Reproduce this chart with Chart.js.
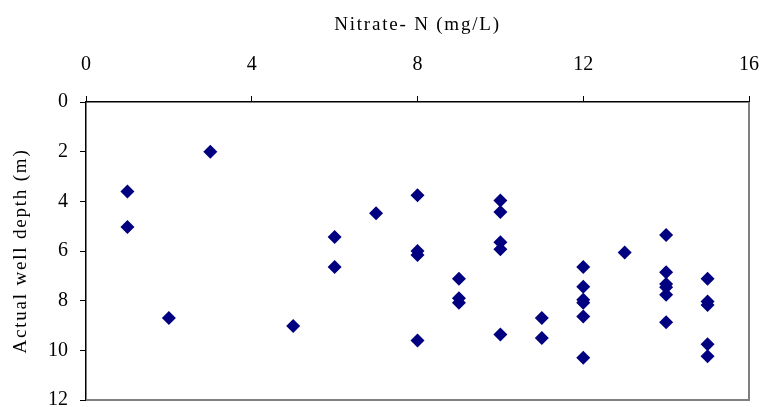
<!DOCTYPE html>
<html>
<head>
<meta charset="utf-8">
<script src="https://cdn.jsdelivr.net/npm/chart.js@4/dist/chart.umd.min.js"></script>
<style>
  body { margin: 0; background: #fff; }
  #wrap { width: 760px; height: 407px; }
</style>
</head>
<body>
<div id="wrap"><canvas id="depthChart" width="760" height="407"></canvas></div>
<script>
// nitrate-N (mg/L) and well depth (m)
const nitrate = [1, 1, 2, 3, 5, 6, 6, 7,
    8, 8, 8, 8,
    9, 9, 9,
    10, 10, 10, 10, 10,
    11, 11,
    12, 12, 12, 12, 12, 12,
    13,
    14, 14, 14, 14, 14, 14,
    15, 15, 15, 15, 15];
const depth = [3.6, 5.03, 8.7, 2.0, 9.02, 5.44, 6.64, 4.48,
    3.76, 6.0, 6.16, 9.6,
    7.12, 7.9, 8.08,
    3.97, 4.43, 5.65, 5.93, 9.36,
    8.7, 9.5,
    6.64, 7.44, 7.96, 8.08, 8.64, 10.3,
    6.06,
    5.36, 6.86, 7.33, 7.46, 7.76, 8.87,
    7.12, 8.03, 8.17, 9.76, 10.24];

const X_TICKS = { min: 0, max: 16, step: 4 };
const Y_TICKS = { min: 0, max: 12, step: 2 };

const FONT = "'Liberation Serif', 'Times New Roman', serif";

// axis titles in the original are letter-spaced
const baseDrawTitle = Chart.Scale.prototype.drawTitle;
Chart.Scale.prototype.drawTitle = function () {
    this.ctx.save();
    this.ctx.letterSpacing = "1.8px";
    baseDrawTitle.call(this);
    this.ctx.restore();
};

// gray frame on the right and bottom of the plot area (Excel style)
const plotFrame = {
    id: "plotFrame",
    afterDraw(chart) {
        const { ctx, chartArea: a } = chart;
        ctx.save();
        ctx.strokeStyle = "#808080";
        ctx.lineWidth = 2;
        ctx.beginPath();
        ctx.moveTo(a.left, a.bottom);
        ctx.lineTo(a.right, a.bottom);
        ctx.lineTo(a.right, a.top);
        ctx.stroke();
        ctx.restore();
    }
};

const fixBox = (s, key, size) => {
    s[key] = size;
    s.paddingLeft = s.paddingRight = s.paddingTop = s.paddingBottom = 0;
};

const points = nitrate.map((x, i) => ({ x, y: depth[i] }));

new Chart(document.getElementById("depthChart"), {
    type: "scatter",
    data: {
        datasets: [{
            data: points,
            pointStyle: "rectRot",
            pointRadius: 7,
            backgroundColor: "#000080",
            borderColor: "#000080",
            borderWidth: 0
        }]
    },
    options: {
        responsive: false,
        animation: false,
        layout: { padding: { left: 0, top: 0, right: 11, bottom: 5 } },
        plugins: { legend: { display: false }, tooltip: { enabled: false } },
        scales: {
            x: {
                type: "linear",
                position: "top",
                min: X_TICKS.min,
                max: X_TICKS.max,
                ticks: { stepSize: X_TICKS.step, color: "#000", padding: 19, font: { family: FONT, size: 20 } },
                grid: { drawOnChartArea: false, tickLength: 6, color: "#000" },
                border: { color: "#000", width: 1.5 },
                title: { display: true, text: "Nitrate- N (mg/L)", color: "#000", font: { family: FONT, size: 19 }, padding: { top: 14, bottom: 0 } },
                afterFit: (s) => fixBox(s, "height", 102)
            },
            y: {
                type: "linear",
                reverse: true,
                min: Y_TICKS.min,
                max: Y_TICKS.max,
                ticks: { stepSize: Y_TICKS.step, color: "#000", padding: 12, font: { family: FONT, size: 20 } },
                grid: { drawOnChartArea: false, tickLength: 6, color: "#000" },
                border: { color: "#000", width: 1.5 },
                title: { display: true, text: "Actual well depth (m)", color: "#000", font: { family: FONT, size: 19 }, padding: { top: 10, bottom: 0 } },
                afterFit: (s) => fixBox(s, "width", 86)
            }
        }
    },
    plugins: [plotFrame]
});
</script>
</body>
</html>
